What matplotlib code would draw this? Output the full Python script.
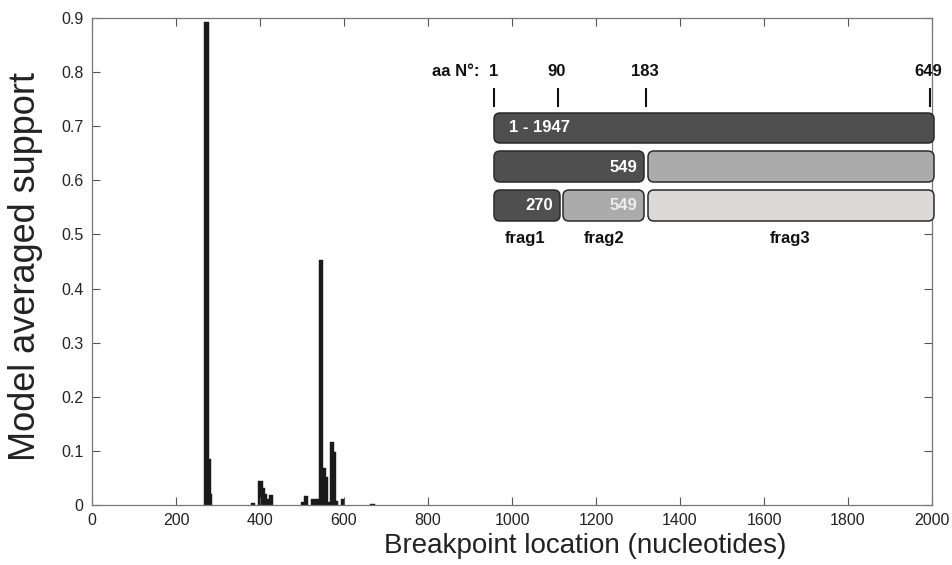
import matplotlib.pyplot as plt
from matplotlib.patches import FancyBboxPatch
from matplotlib.transforms import Affine2D
import numpy as np

# --- data ---
# histogram bins: left edge, right edge (nucleotides), model averaged support
bin_start = [267, 279, 283, 378, 396, 408, 412, 416, 422,
             497, 505, 522, 540, 549, 556, 562, 567, 575, 580, 594, 662]
bin_end = [279, 283, 286, 388, 408, 412, 416, 422, 430,
           505, 515, 540, 549, 556, 562, 567, 575, 580, 586, 600, 674]
support = [0.893, 0.085, 0.020, 0.004, 0.044, 0.032, 0.021, 0.011, 0.019,
           0.005, 0.017, 0.012, 0.453, 0.068, 0.052, 0.005, 0.116, 0.098, 0.007, 0.012, 0.002]

x_ticks = [0, 200, 400, 600, 800, 1000, 1200, 1400, 1600, 1800, 2000]
y_ticks = [0, 0.1, 0.2, 0.3, 0.4, 0.5, 0.6, 0.7, 0.8, 0.9]

# inset schematic (amino acid positions and fragment end labels)
aa_labels = ["1", "90", "183", "649"]
frag_names = ["frag1", "frag2", "frag3"]
full_label = "1 - 1947"
frag_ends = ["549", "270", "549"]

FONT = "Liberation Sans"
plt.rcParams['font.family'] = [FONT, 'DejaVu Sans']

fig = plt.figure(figsize=(9.52, 5.65), dpi=100)
ax = fig.add_axes([92 / 952, 1 - 505 / 565, 840 / 952, 487 / 565])

widths = np.array(bin_end) - np.array(bin_start)
ax.bar(bin_start, support, width=widths, align='edge', color='#1a1a1a',
       edgecolor='#1a1a1a', linewidth=0.3)

ax.set_xlim(0, 2000)
ax.set_ylim(0, 0.9)
ax.set_xticks(x_ticks)
ax.set_yticks(y_ticks)
ax.set_yticklabels([f"{v:g}" for v in y_ticks])
ax.tick_params(direction='in', top=True, right=True, length=6, width=0.8,
               color='#555555', labelsize=11.5, labelcolor='#222222', pad=6)
for s in ax.spines.values():
    s.set_color('#777777')
    s.set_linewidth(0.9)

ax.set_xlabel("Breakpoint location (nucleotides)", fontsize=20, color='#222222')
ax.xaxis.set_label_coords(0.587, -0.057)
ax.set_ylabel("Model averaged support", fontsize=26, color='#222222')
ax.yaxis.set_label_coords(-0.058, 0.49)

# --- inset schematic drawn in pixel coordinates of the figure ---
px = Affine2D().scale(1 / 952, -1 / 565).translate(0, 1) + fig.transFigure

def box(x0, y0, x1, y1, color):
    p = FancyBboxPatch((x0, y0), x1 - x0, y1 - y0,
                       boxstyle="round,pad=0,rounding_size=6",
                       facecolor=color, edgecolor='#2a2a2a', linewidth=1.1,
                       transform=px, clip_on=False)
    fig.add_artist(p)

dark, mid, light = '#4f4f4f', '#ababab', '#ddd9d9'
FS = 12
bold = dict(fontweight='bold', fontsize=FS, transform=px, color='#111111')

fig.text(480, 72, "aa N°:", ha='right', va='center', **bold)
for lab, x in zip(aa_labels, [494, 557, 645, 928]):
    fig.text(x, 72, lab, ha='center', va='center', **bold)
for x in [494, 558, 646, 930]:
    fig.add_artist(plt.Line2D([x, x], [89, 106], color='#111111', lw=1.5, transform=px))

box(494, 113, 934, 143, dark)
fig.text(509, 128, full_label, ha='left', va='center', fontweight='bold',
         fontsize=FS, color='white', transform=px)

box(494, 151, 644, 182, dark)
box(648, 151, 934, 182, mid)
fig.text(637, 167, frag_ends[0], ha='right', va='center', fontweight='bold',
         fontsize=FS, color='white', transform=px)

box(494, 190, 560, 221, dark)
box(563, 190, 644, 221, mid)
box(648, 190, 934, 221, light)
fig.text(553, 206, frag_ends[1], ha='right', va='center', fontweight='bold',
         fontsize=FS, color='white', transform=px)
fig.text(637, 206, frag_ends[2], ha='right', va='center', fontweight='bold',
         fontsize=FS, color='#eeeeee', transform=px)

for name, x in zip(frag_names, [525, 604, 790]):
    fig.text(x, 239, name, ha='center', va='center', **bold)

fig.savefig("out.png", dpi=100)
